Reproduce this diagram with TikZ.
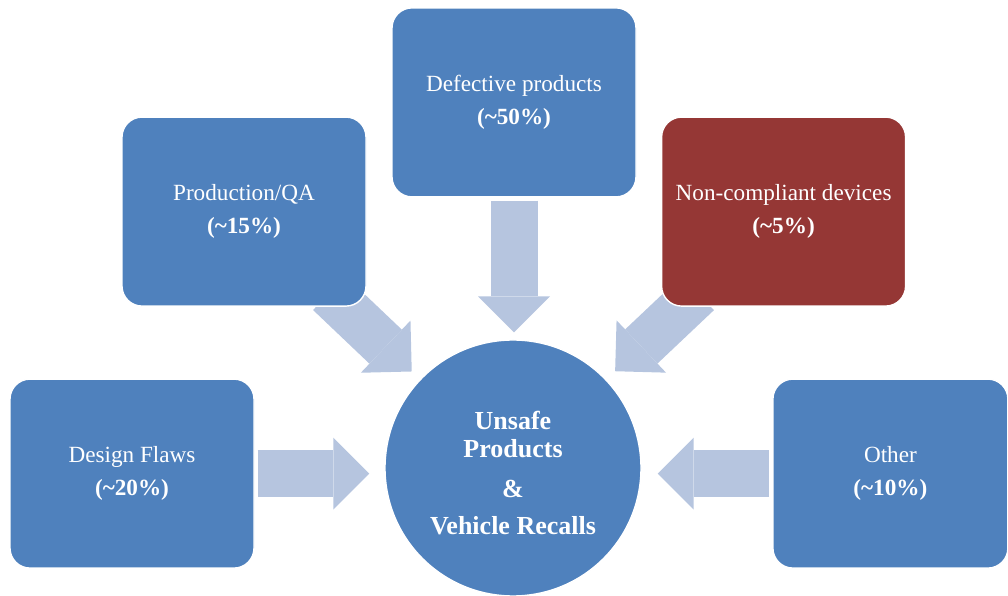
\documentclass[tikz,border=0pt]{standalone}
\usepackage{fontspec}
\setmainfont{Liberation Serif}
\usepackage{tikz}
\usetikzlibrary{arrows.meta, positioning, backgrounds}
\definecolor{causeblue}{RGB}{79, 129, 189}
\definecolor{causered}{RGB}{149, 55, 53}
\definecolor{flowcolor}{RGB}{182, 197, 223}

\begin{document}
\begin{tikzpicture}[
    cause/.style={draw=white, line width=1pt, rounded corners=0.5cm, minimum width=6.1cm, minimum height=4.725cm, text=white, align=center, font=\fontsize{16.5}{23.5}\selectfont},
    hub/.style={circle, draw=white, line width=1pt, fill=causeblue, minimum size=6.4cm, inner sep=0pt},
    hubtext/.style={text=white, align=center, font=\fontsize{18.5}{20}\selectfont\bfseries},
    flow/.style={draw=flowcolor, line width=1.175cm, -{Triangle[length=0.9cm, width=1.8cm, line width=0pt]}},
]
    \useasboundingbox (0, 0) rectangle (25.2, 14.9);

    % Causes
    \node[cause, fill=causeblue] (dp) at (12.85, 12.34) {Defective products\\\textbf{(\textasciitilde50\%)}};
    \node[cause, fill=causeblue] (pq) at (6.1, 9.61) {Production/QA\\\textbf{(\textasciitilde15\%)}};
    \node[cause, fill=causered] (nc) at (19.59, 9.61) {Non-compliant devices\\\textbf{(\textasciitilde5\%)}};
    \node[cause, fill=causeblue] (df) at (3.3, 3.06) {Design Flaws\\\textbf{(\textasciitilde20\%)}};
    \node[cause, fill=causeblue, minimum width=5.875cm] (ot) at (22.26, 3.06) {Other\\\textbf{(\textasciitilde10\%)}};

    % Centre
    \node[hub] (ur) at (12.825, 3.2) {};
    \node[hubtext] (urtext) at ([yshift=-0.12cm]ur.center) {Unsafe\\Products\\[9pt]\&\\[6pt]Vehicle Recalls};

    % Block arrows
    \begin{scope}[on background layer]
        \draw[flow, shorten <=0.075cm, shorten >=0.375cm] (df.east) -- (df.east -| ur.west);
        \draw[flow, shorten <=0.075cm, shorten >=0.4cm] (ot.west) -- (ot.west -| ur.east);
        \draw[flow, shorten <=0.075cm, shorten >=0.175cm] (dp.south) -- (dp.south |- ur.north);
        \draw[flow, shorten <=-0.5cm, shorten >=0.28cm] (pq) -- (ur);
        \draw[flow, shorten <=-0.5cm, shorten >=0.3cm] (nc) -- (ur);
    \end{scope}

\end{tikzpicture}
\end{document}
